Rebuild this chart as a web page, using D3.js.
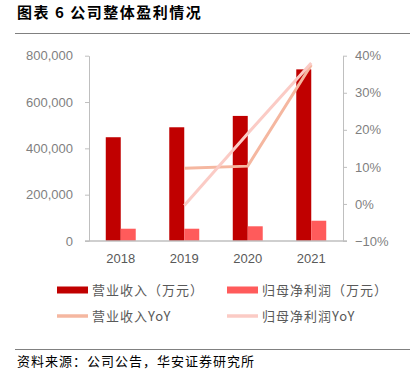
<!DOCTYPE html>
<html>
<head>
<meta charset="utf-8">
<script src="https://cdn.jsdelivr.net/npm/d3@7"></script>
<style>
  body { margin: 0; background: #fff; }
  svg { display: block; font-family: Arial, "Liberation Sans", "Noto Sans CJK SC", sans-serif; }
</style>
</head>
<body>
<div id="chart"></div>
<script>
// data
var years = ["2018", "2019", "2020", "2021"];
var revenue = [448000, 491000, 540000, 741000];      // 营业收入（万元）
var profit = [53000, 53000, 63500, 87500];           // 归母净利润（万元）
var revenueYoY = [null, 0.096, 0.102, 0.375];
var profitYoY = [null, -0.004, 0.19, 0.38];
var leftTicks = [0, 200000, 400000, 600000, 800000];
var rightTicks = [-0.1, 0, 0.1, 0.2, 0.3, 0.4];

var W = 410, H = 376;
var colors = { rev: "#C00000", prof: "#FF5B5B", revY: "#F5B7A0", profY: "#FBCBC5" };

var svg = d3.select("#chart").append("svg")
    .attr("width", W)
    .attr("height", H);

// title
svg.append("text")
    .attr("x", 17).attr("y", 18)
    .attr("font-family", "'Noto Sans CJK SC', sans-serif")
    .attr("font-size", 15).attr("font-weight", "bold")
    .attr("letter-spacing", 1.5)
    .attr("fill", "#000")
    .text("图表 6 公司整体盈利情况");
svg.append("line")
    .attr("x1", 15).attr("x2", 410).attr("y1", 33.5).attr("y2", 33.5)
    .attr("stroke", "#808080").attr("stroke-width", 1.2);

// scales
var x = d3.scaleBand()
    .domain(years)
    .range([89, 343])
    .paddingInner(0.528)
    .paddingOuter(0.264);

var yL = d3.scaleLinear().domain([0, 800000]).range([241, 55.7]);
var yR = d3.scaleLinear().domain([-0.1, 0.4]).range([241, 55.7]);

// axes
var gL = svg.append("g")
    .attr("transform", "translate(89,0)")
    .call(d3.axisLeft(yL).tickValues(leftTicks).tickSize(4).tickSizeOuter(0).tickFormat(d3.format(",")));
var gR = svg.append("g")
    .attr("transform", "translate(343,0)")
    .call(d3.axisRight(yR).tickValues(rightTicks).tickSize(4).tickSizeOuter(0).tickFormat(d3.format(".0%")));

[gL, gR].forEach(function(g) {
  g.select(".domain").attr("stroke", "#BFBFBF");
  g.selectAll(".tick line").attr("stroke", "#BFBFBF");
  g.selectAll(".tick text")
    .attr("fill", "#7F7F7F")
    .attr("font-size", 13)
    .attr("font-family", "Arial, 'Liberation Sans', sans-serif");
});
gL.selectAll(".tick text").attr("x", -16);
gR.selectAll(".tick text").attr("x", 12);

// bars
var bw = x.bandwidth() / 2;
svg.append("g").selectAll("rect")
    .data(years)
    .enter().append("rect")
      .attr("x", function(d) { return x(d); })
      .attr("y", function(d, i) { return yL(revenue[i]); })
      .attr("width", bw)
      .attr("height", function(d, i) { return yL(0) - yL(revenue[i]); })
      .attr("fill", colors.rev);
svg.append("g").selectAll("rect")
    .data(years)
    .enter().append("rect")
      .attr("x", function(d) { return x(d) + bw; })
      .attr("y", function(d, i) { return yL(profit[i]); })
      .attr("width", bw)
      .attr("height", function(d, i) { return yL(0) - yL(profit[i]); })
      .attr("fill", colors.prof);

// baseline
svg.append("line")
    .attr("x1", 85).attr("x2", 347)
    .attr("y1", yL(0)).attr("y2", yL(0))
    .attr("stroke", "#BFBFBF").attr("stroke-width", 1.5);

// yoy lines
var line = d3.line()
    .defined(function(d) { return d.v != null; })
    .x(function(d) { return x(d.year) + x.bandwidth() / 2; })
    .y(function(d) { return yR(d.v); });

function series(vals) {
  return years.map(function(y, i) { return { year: y, v: vals[i] }; });
}

svg.append("path")
    .datum(series(revenueYoY))
    .attr("d", line)
    .attr("fill", "none")
    .attr("stroke", colors.revY)
    .attr("stroke-width", 3);
svg.append("path")
    .datum(series(profitYoY))
    .attr("d", line)
    .attr("fill", "none")
    .attr("stroke", colors.profY)
    .attr("stroke-width", 3);

// x labels
svg.append("g").selectAll("text")
    .data(years)
    .enter().append("text")
      .attr("x", function(d) { return x(d) + x.bandwidth() / 2; })
      .attr("y", 263)
      .attr("text-anchor", "middle")
      .attr("font-size", 13)
      .attr("fill", "#595959")
      .text(function(d) { return d; });

// legend
var legend = [
  { label: "营业收入（万元）", color: colors.rev, type: "rect", x: 57, y: 290 },
  { label: "归母净利润（万元）", color: colors.prof, type: "rect", x: 227, y: 290 },
  { label: "营业收入YoY", color: colors.revY, type: "line", x: 57, y: 316 },
  { label: "归母净利润YoY", color: colors.profY, type: "line", x: 227, y: 316 }
];
var lg = svg.append("g").selectAll("g")
    .data(legend)
    .enter().append("g")
      .attr("transform", function(d) { return "translate(" + d.x + "," + d.y + ")"; });
lg.filter(function(d) { return d.type == "rect"; }).append("rect")
    .attr("x", 0).attr("y", -3.5).attr("width", 31).attr("height", 7)
    .attr("fill", function(d) { return d.color; });
lg.filter(function(d) { return d.type == "line"; }).append("line")
    .attr("x1", 0).attr("x2", 31).attr("y1", 0).attr("y2", 0)
    .attr("stroke", function(d) { return d.color; })
    .attr("stroke-width", 3.5);
lg.append("text")
    .attr("x", 35).attr("y", 0)
    .attr("dy", "0.35em")
    .attr("font-size", 13)
    .attr("letter-spacing", 1)
    .attr("fill", "#595959")
    .attr("font-family", "'Noto Sans CJK SC', Arial, sans-serif")
    .text(function(d) { return d.label; });

// footer
svg.append("line")
    .attr("x1", 15).attr("x2", 410).attr("y1", 349.5).attr("y2", 349.5)
    .attr("stroke", "#808080").attr("stroke-width", 1.2);
svg.append("text")
    .attr("x", 17).attr("y", 366)
    .attr("font-size", 13)
    .attr("letter-spacing", 1)
    .attr("fill", "#000")
    .attr("font-family", "'Noto Sans CJK SC', sans-serif")
    .text("资料来源：公司公告，华安证券研究所");
</script>
</body>
</html>
